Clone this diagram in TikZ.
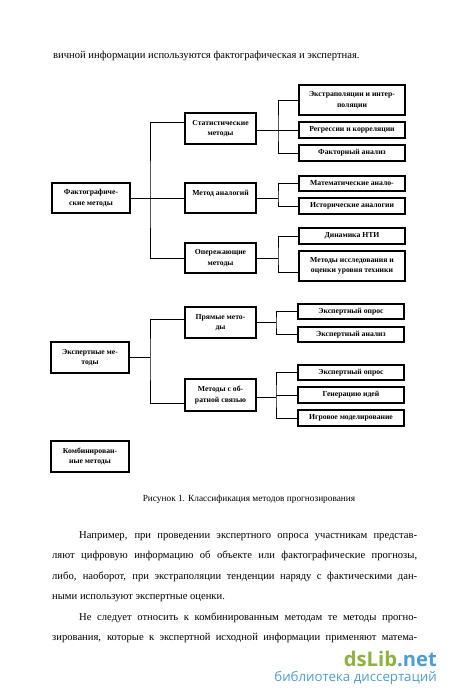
\documentclass[tikz,border=0pt]{standalone}
\usepackage{fontspec}
\setmainfont{Liberation Serif}
\newfontfamily\wmfont{Open Sans}
\definecolor{wmgreen}{RGB}{140,178,64}
\definecolor{wmblue}{RGB}{78,158,214}
\begin{document}
\begin{tikzpicture}[x=1pt,y=-1pt,
  box/.style={draw,line width=1.1pt,inner sep=0pt,align=center,
    font=\bfseries\fontsize{7.7}{10.5}\selectfont},
  conn/.style={line width=0.9pt},
  body/.style={anchor=base west,inner sep=0pt,font=\fontsize{10.6}{12}\selectfont},
]
\useasboundingbox[fill=white] (0,0) rectangle (450,696);

\node[body] (top) at (53,58) {вичной информации используются фактографическая и экспертная.};

% level 1
\node[box,minimum width=78pt,minimum height=30pt] (fakt) at (91,198) {Фактографиче-\\ские методы};
\node[box,minimum width=78pt,minimum height=31pt] (expert) at (90,357.5) {Экспертные ме-\\тоды};
\node[box,minimum width=78pt,minimum height=31pt] (komb) at (90,456.5) {Комбинирован-\\ные методы};

% level 2
\node[box,minimum width=71pt,minimum height=31pt] (stat) at (220.5,128.5) {Статистические\\методы};
\node[box,minimum width=71pt,minimum height=30pt] (analog) at (220.5,198) {Метод аналогий\\\phantom{М}};
\node[box,minimum width=71pt,minimum height=30pt] (oper) at (220.5,258) {Опережающие\\методы};
\node[box,minimum width=71pt,minimum height=31pt] (pryam) at (220.5,322.5) {Прямые мето-\\ды};
\node[box,minimum width=71pt,minimum height=32pt] (obr) at (220.5,395) {Методы с об-\\ратной связью};

% level 3
\node[box,minimum width=106pt,minimum height=30pt] (extrap) at (352,100) {Экстраполяции и интер-\\поляции};
\node[box,minimum width=106pt,minimum height=16pt] (regr) at (352,130) {Регрессии и корреляции};
\node[box,minimum width=106pt,minimum height=16pt] (factor) at (352,153) {Факторный анализ};
\node[box,minimum width=106pt,minimum height=15pt] (math) at (352,183.5) {Математические анало-};
\node[box,minimum width=106pt,minimum height=16pt] (hist) at (352,206) {Исторические аналогии};
\node[box,minimum width=106pt,minimum height=16pt] (dyn) at (352,236) {Динамика НТИ};
\node[box,minimum width=106pt,minimum height=30pt] (resmeth) at (352,266) {Методы исследования и\\оценки уровня техники};
\node[box,minimum width=106pt,minimum height=15pt] (ep1) at (351,311.5) {Экспертный опрос};
\node[box,minimum width=106pt,minimum height=15pt] (ea) at (351,334.5) {Экспертный анализ};
\node[box,minimum width=106pt,minimum height=15pt] (ep2) at (351,372.5) {Экспертный опрос};
\node[box,minimum width=106pt,minimum height=16pt] (gen) at (351,395) {Генерацию идей};
\node[box,minimum width=106pt,minimum height=16pt] (game) at (351,418) {Игровое моделирование};

% connectors
\coordinate (t1) at (150,198);
\draw[conn] (fakt.east) -- (t1);
\draw[conn] ([yshift=6.5pt]stat.west) -| (t1) |- (oper.west);
\draw[conn] (analog.west) -- (t1);

\coordinate (t2) at (278,130);
\draw[conn] ([yshift=-1.5pt]stat.east) -- (t2);
\draw[conn] (extrap.west) -| (t2) |- (factor.west);
\draw[conn] (regr.west) -- (t2);

\coordinate (t3) at (278,198);
\draw[conn] (analog.east) -- (t3);
\draw[conn] (math.west) -| (t3) |- (hist.west);

\coordinate (t3b) at (278,258);
\draw[conn] (oper.east) -- (t3b);
\draw[conn] (dyn.west) -| (t3b) |- ([yshift=-6pt]resmeth.west);

\coordinate (t4) at (150,357.5);
\draw[conn] (expert.east) -- (t4);
\draw[conn] ([yshift=3.5pt]pryam.west) -| (t4) |- ([yshift=-8pt]obr.west);

\coordinate (t5) at (276,322.5);
\draw[conn] (pryam.east) -- (t5);
\draw[conn] (ep1.west) -| (t5) |- (ea.west);

\coordinate (t6) at (276,397);
\draw[conn] ([yshift=-2pt]obr.east) -- (t6);
\draw[conn] (ep2.west) -| (t6) |- (game.west);
\draw[conn] (gen.west) -- (gen.west -| t6);

% caption
\node[anchor=base,inner sep=0pt,font=\fontsize{9.3}{11}\selectfont] (cap) at (249,501) {Рисунок 1. Классификация методов прогнозирования};

% body text
\node[body] (p1) at (79,538) {\makebox[338pt][s]{Например, при проведении экспертного опроса участникам представ-}};
\node[body] (p2) at (52,558.5) {\makebox[365pt][s]{ляют цифровую информацию об объекте или фактографические прогнозы,}};
\node[body] (p3) at (52,579) {\makebox[365pt][s]{либо, наоборот, при экстраполяции тенденции наряду с фактическими дан-}};
\node[body] (p4) at (52,599.5) {ными используют экспертные оценки.};
\node[body] (p5) at (79,620) {\makebox[338pt][s]{Не следует относить к комбинированным методам те методы прогно-}};
\node[body] (p6) at (52,640) {\makebox[365pt][s]{зирования, которые к экспертной исходной информации применяют матема-}};

% watermark
\node[anchor=base east,inner sep=0pt,font=\wmfont\bfseries\fontsize{20.2}{21}\selectfont] (wm1) at (437,666) {\textcolor{wmgreen}{dsLib}\textcolor{wmblue}{.net}};
\node[anchor=base east,inner sep=0pt,font=\wmfont\fontsize{13.3}{15}\selectfont,text=wmblue] (wm2) at (437,681) {библиотека диссертаций};
\end{tikzpicture}
\end{document}
